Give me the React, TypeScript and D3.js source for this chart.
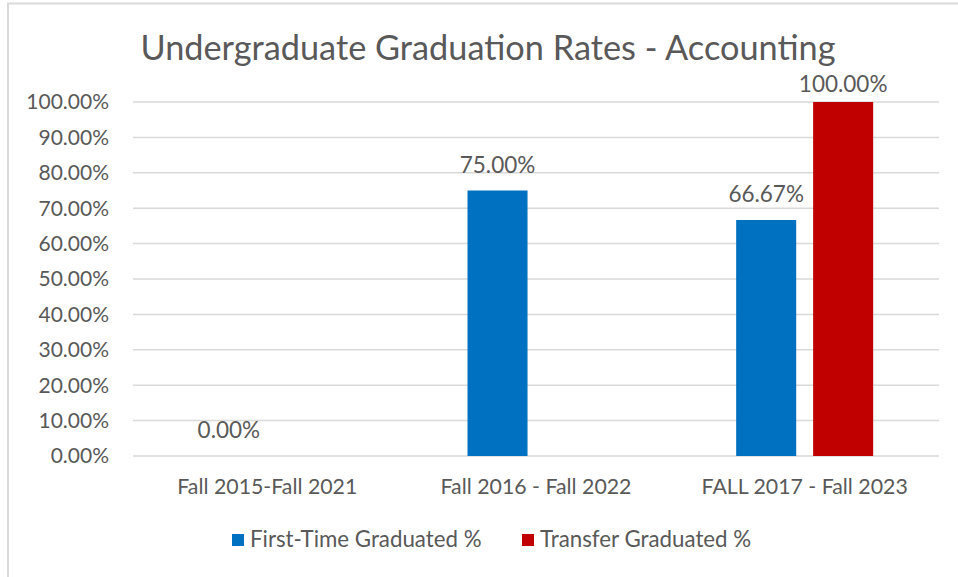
import { useEffect, useRef } from "react";
import * as d3 from "d3";

const categories = ["Fall 2015-Fall 2021", "Fall 2016 - Fall 2022", "FALL 2017 - Fall 2023"];
const seriesNames = ["First-Time Graduated %", "Transfer Graduated %"];
const firstTime: (number | null)[] = [0, 75, 66.67];
const transfer: (number | null)[] = [null, null, 100];
const yTicks = [0, 10, 20, 30, 40, 50, 60, 70, 80, 90, 100];
const colors = ["#0070C0", "#C00000"];

const App = () => {
  const ref = useRef<SVGSVGElement>(null);

  useEffect(() => {
    draw();
  }, []);

  const draw = () => {
    const width = 958;
    const height = 577;
    const margin = { top: 102, right: 19, bottom: 121, left: 133 };
    const font = "Lato, 'Open Sans', sans-serif";
    const textColor = "#595959";

    const svg = d3.select(ref.current);
    svg.selectAll("*").remove();

    svg.append("rect").attr("width", width).attr("height", height).attr("fill", "#fff");

    // chart frame (only top + left edge visible in the reference)
    svg
      .append("path")
      .attr("d", `M8,${height} V3.5 H${width}`)
      .attr("fill", "none")
      .attr("stroke", "#d9d9d9")
      .attr("stroke-width", 2);

    const xScale = d3
      .scaleBand<string>()
      .domain(categories)
      .range([margin.left, width - margin.right]);

    const groupWidth = 137;
    const x1 = d3
      .scaleBand<string>()
      .domain(seriesNames)
      .range([0, groupWidth])
      .paddingInner(0.22);

    const yScale = d3
      .scaleLinear()
      .domain([0, 100])
      .range([height - margin.bottom, margin.top]);

    // gridlines
    svg
      .append("g")
      .selectAll("line")
      .data(yTicks)
      .join("line")
      .attr("x1", margin.left)
      .attr("x2", width - margin.right)
      .attr("y1", (d) => yScale(d))
      .attr("y2", (d) => yScale(d))
      .attr("stroke", "#d9d9d9")
      .attr("stroke-width", 1.5);

    // y axis labels
    svg
      .append("g")
      .selectAll("text")
      .data(yTicks)
      .join("text")
      .attr("x", 109)
      .attr("y", (d) => yScale(d))
      .attr("dy", "0.35em")
      .attr("text-anchor", "end")
      .attr("font-family", font)
      .attr("font-size", 21)
      .attr("fill", textColor)
      .text((d) => d.toFixed(2) + "%");

    // bars + labels
    const seriesData = [firstTime, transfer];
    seriesNames.forEach((name, si) => {
      const rows = categories
        .map((c, i) => ({ c, v: seriesData[si][i] }))
        .filter((r) => r.v !== null) as { c: string; v: number }[];
      const bx = (c: string) =>
        (xScale(c) as number) + xScale.bandwidth() / 2 - groupWidth / 2 + (x1(name) as number);

      svg
        .append("g")
        .selectAll("rect")
        .data(rows)
        .join("rect")
        .attr("x", (d) => bx(d.c))
        .attr("y", (d) => yScale(d.v))
        .attr("width", x1.bandwidth())
        .attr("height", (d) => yScale(0) - yScale(d.v))
        .attr("fill", colors[si]);

      svg
        .append("g")
        .selectAll("text")
        .data(rows)
        .join("text")
        .attr("x", (d) => bx(d.c) + x1.bandwidth() / 2)
        .attr("y", (d) => Math.max(yScale(d.v) - 18, margin.top - 10))
        .attr("text-anchor", "middle")
        .attr("font-family", font)
        .attr("font-size", 22.5)
        .attr("fill", textColor)
        .text((d) => d.v.toFixed(2) + "%");
    });

    // x axis labels
    svg
      .append("g")
      .selectAll("text")
      .data(categories)
      .join("text")
      .attr("x", (d) => (xScale(d) as number) + xScale.bandwidth() / 2)
      .attr("y", 494)
      .attr("text-anchor", "middle")
      .attr("font-family", font)
      .attr("font-size", 21.3)
      .attr("fill", textColor)
      .text((d) => d);

    // title
    svg
      .append("text")
      .attr("x", 488)
      .attr("y", 60)
      .attr("text-anchor", "middle")
      .attr("font-family", font)
      .attr("font-size", 34.3)
      .attr("fill", textColor)
      .text("Undergraduate Graduation Rates - Accounting");

    // legend
    const legendX = [232, 522];
    const legend = svg
      .append("g")
      .selectAll("g")
      .data(seriesNames)
      .join("g")
      .attr("transform", (d, i) => `translate(${legendX[i]},534)`);
    legend
      .append("rect")
      .attr("width", 12)
      .attr("height", 12)
      .attr("fill", (d, i) => colors[i]);
    legend
      .append("text")
      .attr("x", 18)
      .attr("y", 12.5)
      .attr("font-family", font)
      .attr("font-size", 22.3)
      .attr("fill", textColor)
      .text((d) => d);
  };

  return (
    <div style={{ position: "absolute", left: 0, top: 0 }}>
      <svg ref={ref} width={958} height={577}></svg>
    </div>
  );
};

export default App;
